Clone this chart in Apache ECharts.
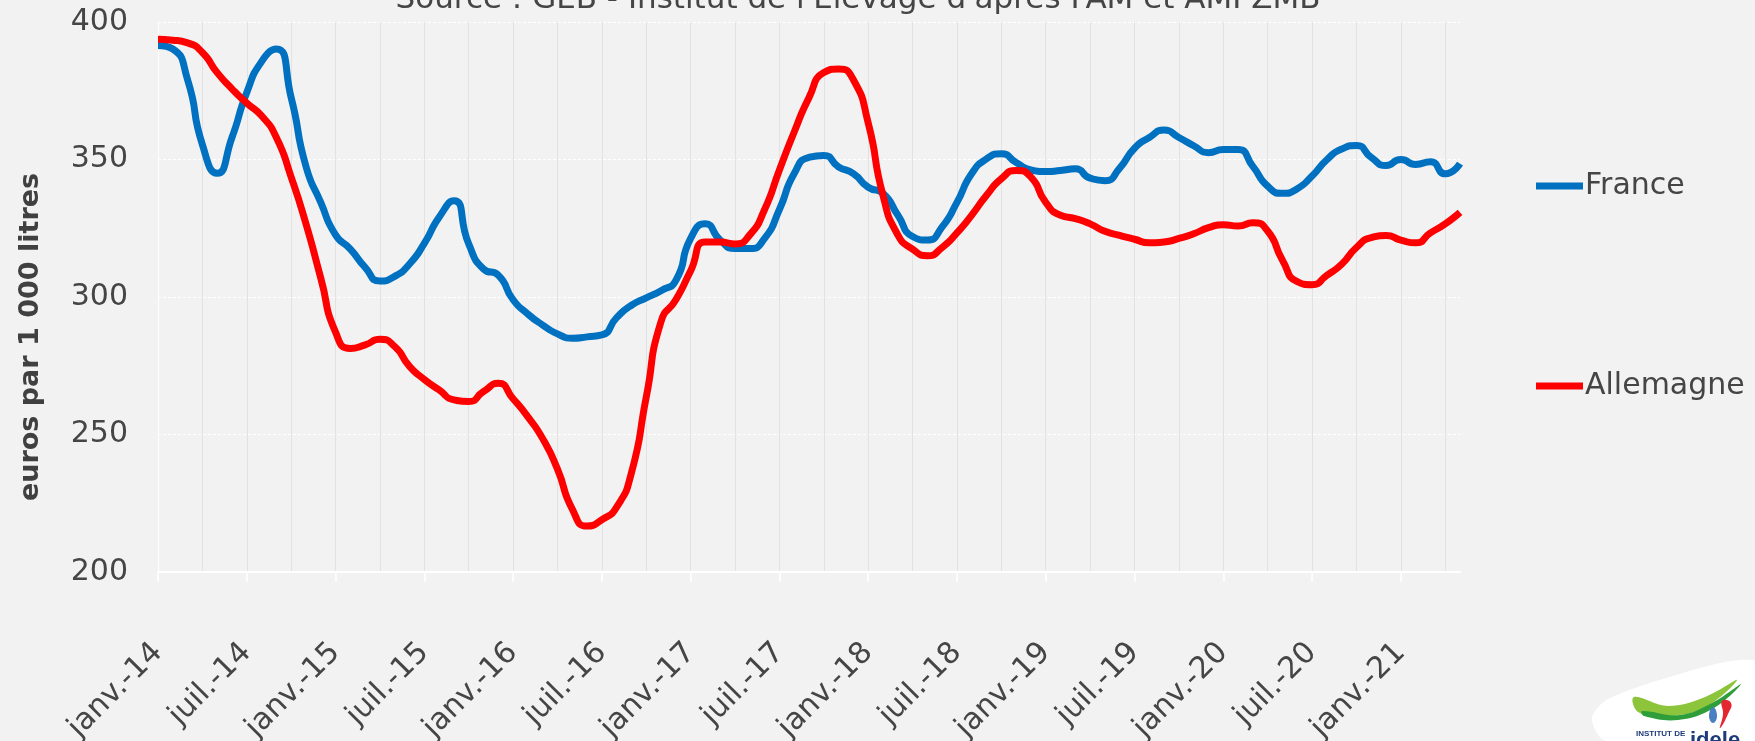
<!DOCTYPE html>
<html>
<head>
<meta charset="utf-8">
<script src="https://cdn.jsdelivr.net/npm/echarts@6/dist/echarts.min.js"></script>
<style>
html,body{margin:0;padding:0;background:#f2f2f2;}
#chart{width:1755px;height:741px;}
</style>
</head>
<body>
<div id="chart"></div>
<script>
// Categories: monthly, janv. 2014 -> mai 2021
var categories = [
 'janv.-14','févr.-14','mars-14','avr.-14','mai-14','juin-14','juil.-14','août-14','sept.-14','oct.-14','nov.-14','déc.-14',
 'janv.-15','févr.-15','mars-15','avr.-15','mai-15','juin-15','juil.-15','août-15','sept.-15','oct.-15','nov.-15','déc.-15',
 'janv.-16','févr.-16','mars-16','avr.-16','mai-16','juin-16','juil.-16','août-16','sept.-16','oct.-16','nov.-16','déc.-16',
 'janv.-17','févr.-17','mars-17','avr.-17','mai-17','juin-17','juil.-17','août-17','sept.-17','oct.-17','nov.-17','déc.-17',
 'janv.-18','févr.-18','mars-18','avr.-18','mai-18','juin-18','juil.-18','août-18','sept.-18','oct.-18','nov.-18','déc.-18',
 'janv.-19','févr.-19','mars-19','avr.-19','mai-19','juin-19','juil.-19','août-19','sept.-19','oct.-19','nov.-19','déc.-19',
 'janv.-20','févr.-20','mars-20','avr.-20','mai-20','juin-20','juil.-20','août-20','sept.-20','oct.-20','nov.-20','déc.-20',
 'janv.-21','févr.-21','mars-21','avr.-21','mai-21'
];

var france = [
 391.5,390.2,379,355.4,345,358,374.4,385.6,390.2,372.5,347.5,334.4,
 322.6,317.4,310.8,305.8,307.5,312,319.5,329,335,319.3,310.2,307.9,
 299,293.8,289.8,286.6,285,285.5,286.2,292.5,297,299.7,302.3,306,
 321.3,326.6,320.7,317.6,317.6,321.3,331.8,344.9,350.8,351.5,347.3,344.9,
 339.9,337.7,329.8,322,320.7,325.5,334.4,344.9,350.2,352.1,348.9,346.2,
 345.6,346,346.6,343.2,342.3,346.9,354.1,358,360.7,358,355,352.5,
 353.6,353.6,347.5,340.3,337.7,339.4,344,349.9,353.8,355.1,350.8,347.8,
 350,348.2,349.2,344.8,348.5
];

var allemagne = [
 393.7,393.4,392.4,388.9,381.6,375.7,370.5,365.9,358,343.6,326.6,306.9,
 287.2,281.3,282.6,284.6,282,274.8,270,266.2,262.6,262,265.6,268.6,
 263,256.4,248.5,237.4,222.9,216.7,219,223.6,236.1,263.6,291.1,299,
 309.5,320,320,319.3,322.6,331.8,346.2,360,372.5,381.6,382.9,379,
 363.3,337,322.6,317.4,315,318,323.3,329.8,337,343,346,343.6,
 334.4,329.7,328.5,326.6,323.9,322.4,321,319.7,320,321.3,323,325.2,
 326.3,325.8,327,324,313.4,305.6,304.5,307.9,311.9,318,321.6,322.4,
 320.7,319.7,323.3,326.6,330.8
];

var yTicks = [200, 250, 300, 350, 400];

var FONT = 'DejaVu Sans';
var TXT = '#454545';

var chart = echarts.init(document.getElementById('chart'), null, {renderer:'canvas'});
chart.setOption({
  backgroundColor: '#f2f2f2',
  animation: false,
  grid: {left: 158, right: 295, top: 22, bottom: 169, containLabel: false, outerBoundsMode: 'none'},
  xAxis: {
    type: 'category',
    data: categories,
    boundaryGap: false,
    axisLine: {show: true, lineStyle: {color: '#ffffff', width: 2}},
    axisTick: {show: true, interval: 5, length: 10, lineStyle: {color: '#ffffff', width: 1.5}},
    axisLabel: {interval: 5, rotate: 45, margin: 76, fontFamily: FONT, fontSize: 30, color: TXT},
    splitLine: {show: true, interval: 2, lineStyle: {color: '#e2e2e2', width: 1}}
  },
  yAxis: {
    type: 'value',
    min: yTicks[0],
    max: yTicks[yTicks.length - 1],
    interval: 50,
    axisLine: {show: true, lineStyle: {color: '#ffffff', width: 1}},
    axisTick: {show: false},
    axisLabel: {margin: 30, fontFamily: FONT, fontSize: 30, color: TXT},
    splitLine: {show: true, lineStyle: {color: '#ffffff', width: 1, type: [3, 2]}}
  },
  legend: [
    {data: ['France'], orient: 'vertical', left: 1531, top: 166, icon: 'rect', itemWidth: 47, itemHeight: 7,
     itemGap: 0, selectedMode: false, textStyle: {fontFamily: FONT, fontSize: 30, color: TXT, padding: [0,0,0,-3]}},
    {data: ['Allemagne'], orient: 'vertical', left: 1531, top: 366, icon: 'rect', itemWidth: 47, itemHeight: 7,
     itemGap: 0, selectedMode: false, textStyle: {fontFamily: FONT, fontSize: 30, color: TXT, padding: [0,0,0,-3]}}
  ],
  series: [
    {name: 'France', type: 'line', data: france, smooth: 0.6, showSymbol: false, symbol: 'none',
     lineStyle: {color: '#0070c0', width: 7}, itemStyle: {color: '#0070c0'}, z: 3},
    {name: 'Allemagne', type: 'line', data: allemagne, smooth: 0.6, showSymbol: false, symbol: 'none',
     lineStyle: {color: '#ff0000', width: 7}, itemStyle: {color: '#ff0000'}, z: 4}
  ],
  graphic: [
    {type: 'text', x: 858, y: 0, style: {
      text: "Source : GEB - Institut de l'Elevage d'après FAM et AMI ZMB",
      font: 'normal 31px "DejaVu Sans"', fill: TXT, textAlign: 'center', textVerticalAlign: 'middle'}},
    {type: 'text', rotation: Math.PI / 2, x: 31, y: 337, style: {
      text: 'euros par 1 000 litres', font: 'bold 27px "DejaVu Sans"', fill: '#404040',
      textAlign: 'center', textVerticalAlign: 'middle'}},
    // logo
    {type: 'polygon', shape: {smooth: 0.3, points: [[1606,741],[1592,718],[1610,698],[1700,668],[1740,660],[1760,664],[1760,741]]},
     style: {fill: '#ffffff'}},
    {type: 'polygon', shape: {smooth: 0.4, points: [[1634,697],[1668,706],[1705,697],[1737,680],[1704,708],[1666,716],[1638,712]]},
     style: {fill: '#8cc43c'}},
    {type: 'polygon', shape: {smooth: 0.4, points: [[1642,711],[1680,715],[1712,703],[1741,684],[1714,708],[1678,720],[1644,716]]},
     style: {fill: '#2e9e3a'}},
    {type: 'polygon', shape: {smooth: 0.5, points: [[1713,707],[1717,716],[1713,723],[1709,716]]},
     style: {fill: '#4a7fc1'}},
    {type: 'polygon', shape: {smooth: 0.5, points: [[1722,701],[1731,703],[1728,714],[1720,728],[1723,714]]},
     style: {fill: '#e3262f'}},
    {type: 'text', x: 1636, y: 734, style: {text: 'INSTITUT DE', font: 'bold 8px "Liberation Sans Narrow", "Liberation Sans"', fill: '#1d3a7a', textVerticalAlign: 'middle'}},
    {type: 'text', x: 1690, y: 741, style: {text: 'idele', font: 'bold 22px "Liberation Sans"', fill: '#1d3a7a', textVerticalAlign: 'middle'}}
  ]
});
</script>
</body>
</html>
